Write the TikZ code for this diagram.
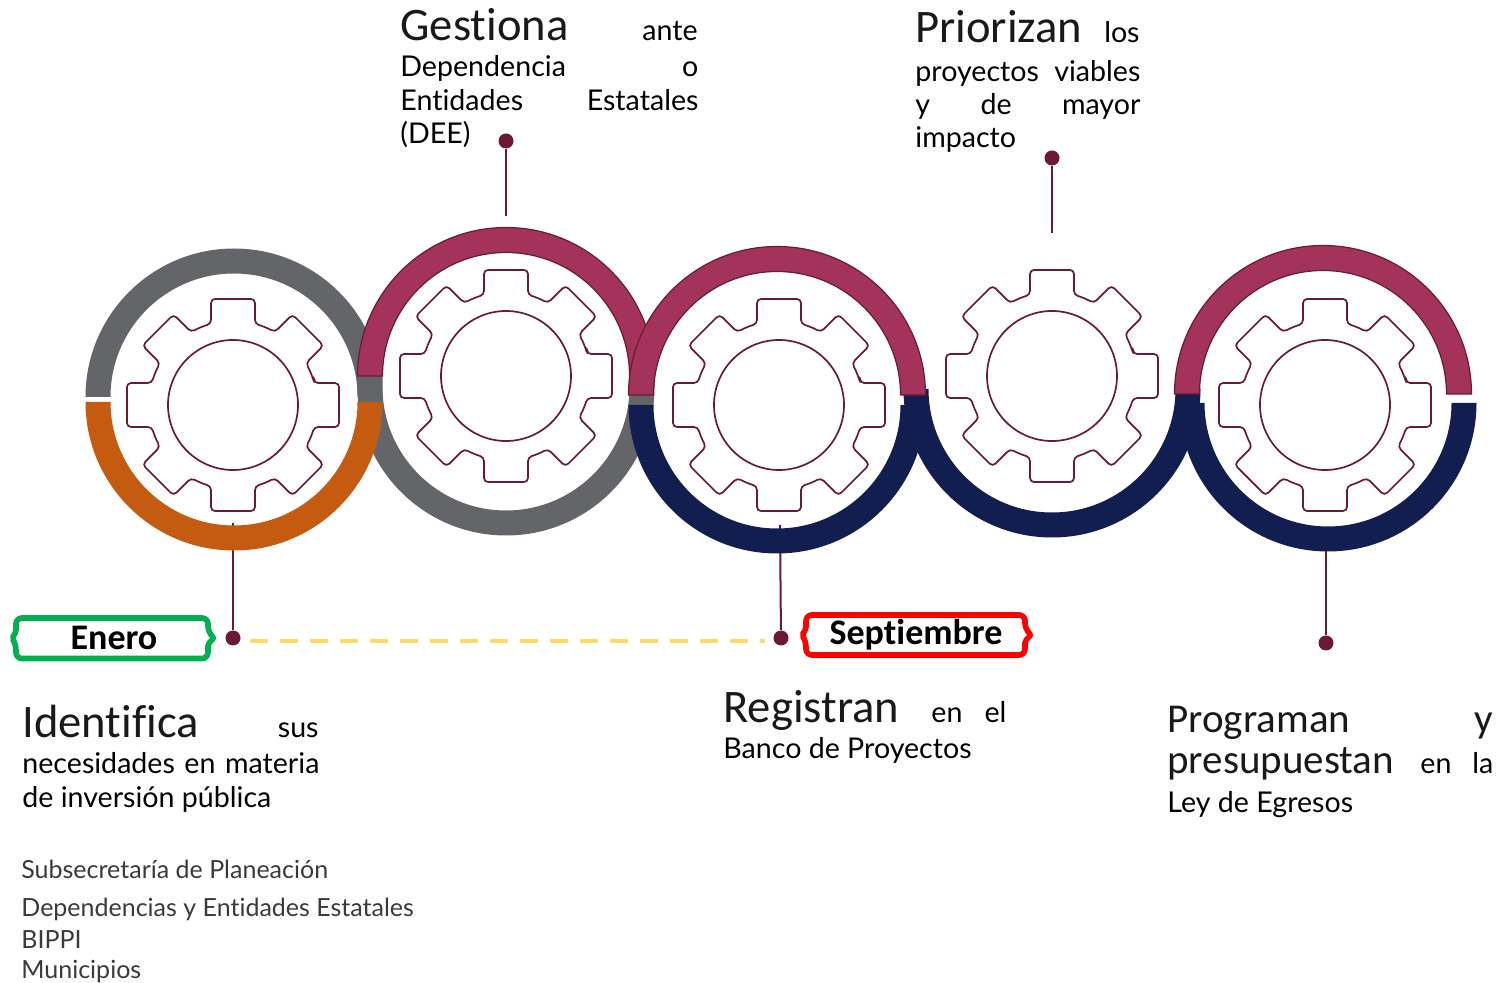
\documentclass[tikz,border=0pt]{standalone}
\usepackage{fontspec}
\setmainfont{Lato}[Ligatures=NoCommon]
\newfontfamily\headfont{Carlito}[Ligatures=NoCommon]
\definecolor{ringgray}{HTML}{646569}
\definecolor{ringorange}{HTML}{C55A11}
\definecolor{ringmag}{HTML}{A3335A}
\definecolor{ringnavy}{HTML}{121E4F}
\definecolor{maroon}{HTML}{6B1A33}
\definecolor{dashyellow}{HTML}{FFD966}
\definecolor{boxgreen}{HTML}{00B050}
\definecolor{boxred}{HTML}{FF0000}
\definecolor{listgray}{HTML}{3A3A3A}
\newcommand\RingUp[4]{\path[#4] (#1-148.5,#3) -- (#1-148.5,#2) arc[start angle=180,end angle=360,radius=148.5] -- (#1+148.5,#3) -- (#1+123.5,#3) -- (#1+123.5,#2) arc[start angle=360,end angle=180,radius=123.5] -- (#1-123.5,#3) -- cycle;}
\newcommand\RingDown[4]{\path[#4] (#1-148.5,#3) -- (#1-148.5,#2) arc[start angle=180,end angle=0,radius=148.5] -- (#1+148.5,#3) -- (#1+123.5,#3) -- (#1+123.5,#2) arc[start angle=0,end angle=180,radius=123.5] -- (#1-123.5,#3) -- cycle;}
\newcommand\BraceBox[6]{\draw[bracebox,#6] (#1,#2) -- (#3,#2) -- (#3,#5-6) [rounded corners=1pt] -- (#3+6,#5) -- (#3,#5+6) [rounded corners=3pt] -- (#3,#4) -- (#1,#4) -- (#1,#5+6) [rounded corners=1pt] -- (#1-4,#5) -- (#1,#5-6) [rounded corners=3pt] -- cycle;}
\tikzset{
  gearline/.style={draw=maroon, line width=0.85pt, rounded corners=2pt},
  gearpic/.pic={
    \draw[gearline] (-15.2:84) \foreach \t in {0,45,...,315}{ -- (\t-11.7:108.3) -- (\t+11.7:108.3) -- (\t+15.2:84) arc[start angle=\t+15.2, end angle=\t+29.8, radius=84]} -- cycle;
    \draw[draw=maroon, line width=0.85pt] (0,0) circle[radius=65];
  },
  ringG/.style={fill=ringgray},
  ringO/.style={fill=ringorange},
  ringM/.style={fill=ringmag, draw=maroon, line width=0.6pt},
  ringN/.style={fill=ringnavy},
  conn/.style={draw=maroon, line width=1pt},
  dot/.style={circle, fill=maroon, inner sep=0pt, minimum size=7.5pt},
  dashline/.style={draw=dashyellow, line width=2pt, dash pattern=on 9pt off 6pt},
  bd/.style={font=\fontsize{14.3pt}{17pt}\selectfont, inner sep=0pt, text=black},
  hd/.style={font=\headfont\fontsize{23.3pt}{23pt}\selectfont, inner sep=0pt, text=black!90},
  hdsmall/.style={font=\headfont\fontsize{20.5pt}{20.5pt}\selectfont, inner sep=0pt, text=black!90},
  lst/.style={font=\fontsize{12.5pt}{14pt}\selectfont, inner sep=0pt, text=listgray, anchor=base west},
  boxtxt/.style={font=\headfont\bfseries\fontsize{18pt}{18pt}\selectfont, inner sep=0pt},
  bracebox/.style={line width=2.8pt, rounded corners=3pt},
}
\begin{document}
\begin{tikzpicture}[x=0.5pt,y=-0.5pt]
\useasboundingbox (0,0) rectangle (1505,983);
% dots and connector ends
\node[dot] (d1) at (233,638) {};
\node[dot] (d2) at (506,141) {};
\node[dot] (d3) at (781,638) {};
\node[dot] (d4) at (1052,158) {};
\node[dot] (d5) at (1326,643) {};
\coordinate (c1b) at (233,523);
\coordinate (c2t) at (506,216);
\coordinate (c3b) at (780,525);
\coordinate (c4t) at (1052,233);
\coordinate (c5b) at (1326,548);
\draw[conn] (c1b) -- (d1);
\draw[conn] (d2) -- (c2t);
\draw[conn] (c3b) -- (d3);
\draw[conn] (d4) -- (c4t);
\draw[conn] (c5b) -- (d5);
\draw[dashline] ([xshift=4.5pt,yshift=-1.5pt]d1.east) -- ([xshift=-4pt,yshift=-1.5pt]d3.west);
% rings
\RingUp{234}{397}{397}{ringG}
\RingDown{506}{387}{373}{ringG}
\RingDown{777}{405}{405}{ringN}
\RingDown{1052}{389}{389}{ringN}
\RingDown{1328}{403}{403}{ringN}
\RingDown{234}{402}{402}{ringO}
\RingUp{506}{376}{376}{ringM}
\RingUp{777}{395}{395}{ringM}
\RingUp{1323}{394}{394}{ringM}
% gears
\pic at (233,405) {gearpic};
\pic at (506,376) {gearpic};
\pic at (779,405) {gearpic};
\pic at (1052,376) {gearpic};
\pic at (1325,405) {gearpic};
% month boxes
\BraceBox{16}{618}{208}{658.5}{638}{draw=boxgreen}
\node[boxtxt] (enero) at (114,638) {Enero};
\BraceBox{806}{615}{1025}{655}{635}{draw=boxred}
\node[boxtxt] (sept) at (916,635) {Septiembre};
% Gestiona
\node[hd, anchor=base west] (gA) at (400,41) {Gestiona};
\node[bd, anchor=base east] (gB) at (698,41) {ante};
\node[bd, anchor=base west] (gC) at (400,77) {\hbox to 149pt{Dependencia\hfill o}};
\node[bd, anchor=base west] (gD) at (400,111) {\hbox to 149pt{Entidades\hfill Estatales}};
\node[bd, anchor=base west] (gE) at (400,144) {(DEE)};
% Priorizan
\node[hd, anchor=base west] (pA) at (915,43) {Priorizan};
\node[bd, anchor=base east] (pB) at (1140,43) {los};
\node[bd, anchor=base west] (pC) at (915,82) {\hbox to 112.5pt{proyectos\hfill viables}};
\node[bd, anchor=base west] (pD) at (915,115) {\hbox to 112.5pt{y\hfill de\hfill mayor}};
\node[bd, anchor=base west] (pE) at (915,148) {impacto};
% Identifica
\node[hd, anchor=base west] (iA) at (22,737) {Identifica};
\node[bd, anchor=base east] (iB) at (319,737) {sus};
\node[bd, anchor=base west] (iC) at (22,773) {\hbox to 148.5pt{necesidades en materia}};
\node[bd, anchor=base west] (iD) at (22,807) {de inversión pública};
% Registran
\node[hd, anchor=base west] (rA) at (723,722) {Registran};
\node[bd, anchor=base west] (rB) at (931,722) {\hbox to 37.5pt{en\hfill el}};
\node[bd, anchor=base west] (rC) at (723,758) {Banco de Proyectos};
% Programan
\node[hdsmall, anchor=base west] (qA) at (1167,733) {Programan};
\node[hdsmall, anchor=base east] (qB) at (1493,733) {y};
\node[hdsmall, anchor=base west] (qC) at (1167,773) {presupuestan};
\node[bd, anchor=base west] (qD) at (1420,773) {\hbox to 36.5pt{en\hfill la}};
\node[bd, anchor=base west] (qE) at (1167,812) {Ley de Egresos};
% list
\node[lst] (l1) at (21,878) {Subsecretaría de Planeación};
\node[lst] (l2) at (21,916) {Dependencias y Entidades Estatales};
\node[lst] (l3) at (21,948) {BIPPI};
\node[lst] (l4) at (21,978) {Municipios};
\end{tikzpicture}
\end{document}
